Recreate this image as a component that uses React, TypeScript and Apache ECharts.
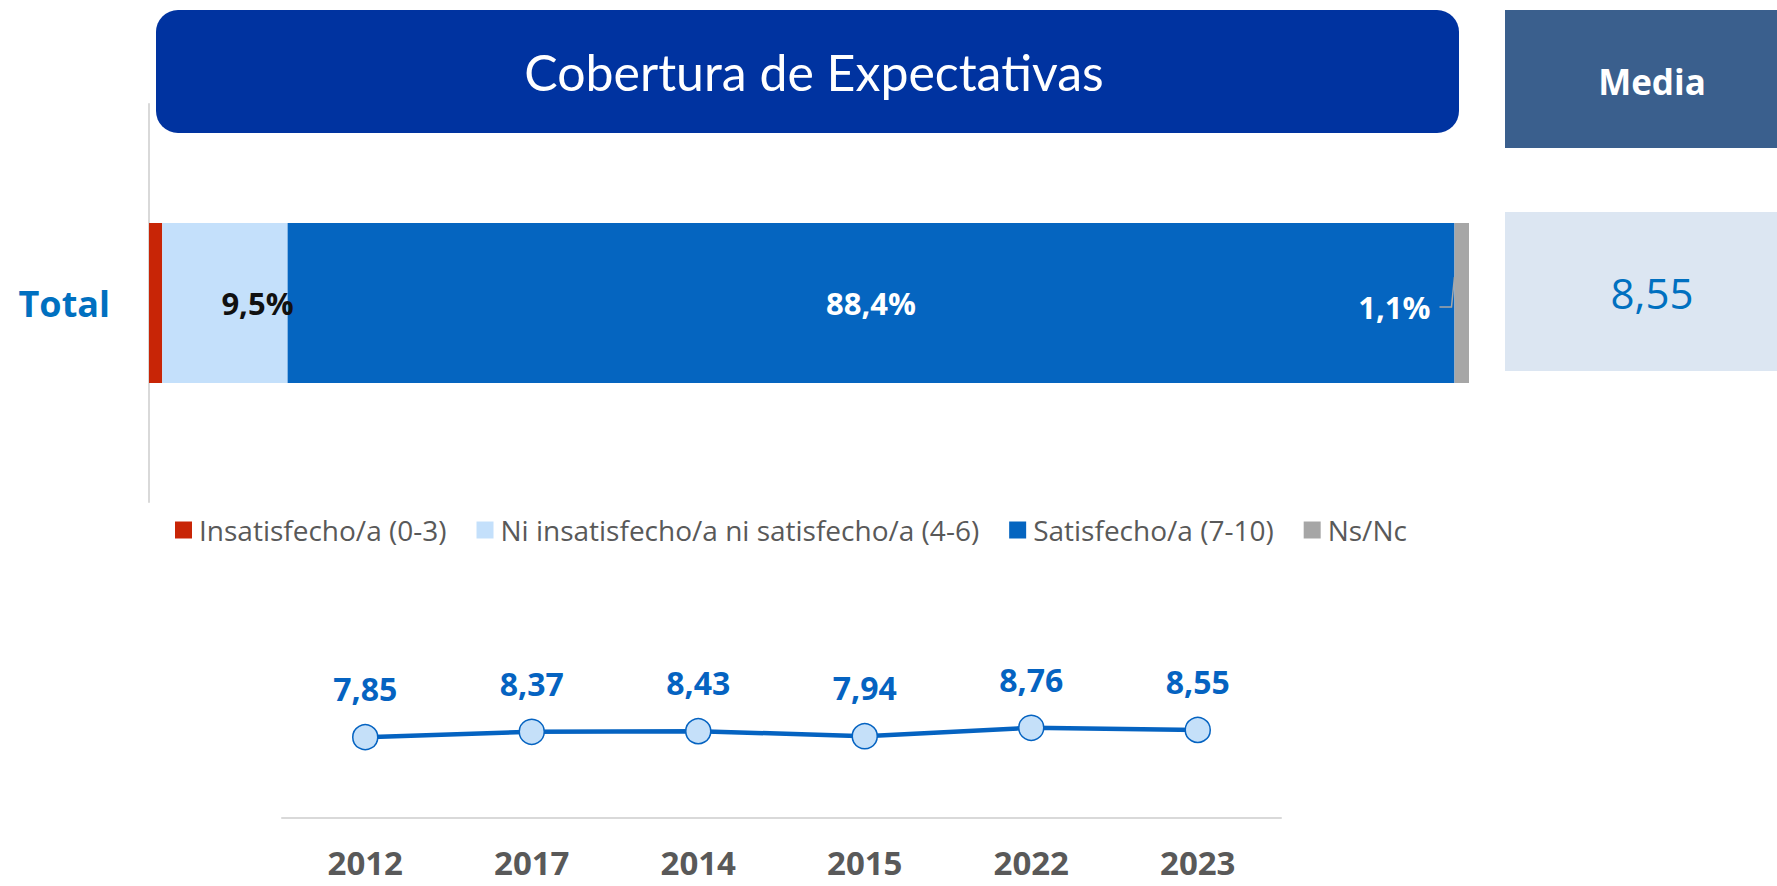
import React, { useEffect, useRef } from 'react';
import * as echarts from 'echarts';

const TITLE = 'Cobertura de Expectativas';
const BAR_CATEGORIES = ['Total'];
const SEGMENT_NAMES = [
  'Insatisfecho/a (0-3)',
  'Ni insatisfecho/a ni satisfecho/a (4-6)',
  'Satisfecho/a (7-10)',
  'Ns/Nc',
];
const INSATISFECHO = [1.0];
const NI_NI = [9.5];
const SATISFECHO = [88.4];
const NSNC = [1.1];
const MEDIA_LABEL = 'Media';
const MEDIA_VALUE = 8.55;
const YEARS = ['2012', '2017', '2014', '2015', '2022', '2023'];
const MEDIA_SERIES = [7.85, 8.37, 8.43, 7.94, 8.76, 8.55];

const SEG_COLORS = ['#C82506', '#C4E0FB', '#0565C0', '#A6A6A6'];
const fmt = (v: number, d: number) => v.toFixed(d).replace('.', ',');
const FONT = '"Open Sans", "Noto Sans", sans-serif';

export default function App() {
  const ref = useRef<HTMLDivElement>(null);
  useEffect(() => {
    document.body.style.margin = '0';
    if (!ref.current) return;
    const chart = echarts.init(ref.current, undefined, { renderer: 'svg' });
    const barLabel = (color: string) => ({
      show: true,
      fontFamily: FONT,
      fontWeight: 'bold' as const,
      fontSize: 31,
      color,
      formatter: (p: any) => fmt(p.value, 1) + '%',
    });
    const option: any = {
      animation: false,
      backgroundColor: '#FFFFFF',
      textStyle: { fontFamily: FONT },
      legend: {
        left: 170,
        top: 510,
        itemWidth: 17,
        itemHeight: 17,
        itemGap: 30,
        icon: 'rect',
        data: SEGMENT_NAMES,
        textStyle: { fontFamily: FONT, fontSize: 28, color: '#595959', lineHeight: 30, padding: [0, 0, 0, 2] },
      },
      grid: [
        { left: 149, width: 1320, top: 104, height: 398 },
        { left: 282, width: 999, top: 715, height: 103 },
      ],
      xAxis: [
        { type: 'value', gridIndex: 0, min: 0, max: 100, show: false },
        {
          type: 'category',
          gridIndex: 1,
          data: YEARS,
          boundaryGap: true,
          axisLine: { show: true, lineStyle: { color: '#D9D9D9', width: 2 } },
          axisTick: { show: false },
          axisLabel: {
            fontFamily: FONT,
            fontWeight: 'bold',
            fontSize: 33,
            lineHeight: 30,
            color: '#595959',
            margin: 29,
          },
        },
      ],
      yAxis: [
        {
          type: 'category',
          gridIndex: 0,
          data: BAR_CATEGORIES,
          axisLine: { show: true, lineStyle: { color: '#D9D9D9', width: 2 } },
          axisTick: { show: false },
          axisLabel: {
            fontFamily: FONT,
            fontWeight: 'bold',
            fontSize: 36,
            color: '#0070C0',
            margin: 39,
          },
        },
        { type: 'value', gridIndex: 1, min: 0, max: 10, show: false },
      ],
      series: [
        {
          name: SEGMENT_NAMES[0],
          type: 'bar',
          stack: 'total',
          xAxisIndex: 0,
          yAxisIndex: 0,
          barWidth: 160,
          data: INSATISFECHO,
          itemStyle: { color: SEG_COLORS[0] },
          label: { show: false },
        },
        {
          name: SEGMENT_NAMES[1],
          type: 'bar',
          stack: 'total',
          xAxisIndex: 0,
          yAxisIndex: 0,
          barWidth: 160,
          data: NI_NI,
          itemStyle: { color: SEG_COLORS[1] },
          label: { ...barLabel('#111111'), position: 'insideRight', distance: 0, offset: [6, 0] },
        },
        {
          name: SEGMENT_NAMES[2],
          type: 'bar',
          stack: 'total',
          xAxisIndex: 0,
          yAxisIndex: 0,
          barWidth: 160,
          data: SATISFECHO,
          itemStyle: { color: SEG_COLORS[2] },
          label: { ...barLabel('#FFFFFF'), position: 'inside' },
        },
        {
          name: SEGMENT_NAMES[3],
          type: 'bar',
          stack: 'total',
          xAxisIndex: 0,
          yAxisIndex: 0,
          barWidth: 160,
          data: NSNC,
          itemStyle: { color: SEG_COLORS[3] },
          label: { ...barLabel('#FFFFFF'), position: 'left', distance: 24, offset: [0, 4] },
        },
        {
          name: 'Media',
          type: 'line',
          xAxisIndex: 1,
          yAxisIndex: 1,
          data: MEDIA_SERIES,
          symbol: 'circle',
          symbolSize: 25,
          lineStyle: { color: '#0563C1', width: 4.5 },
          itemStyle: { color: '#C5E0F9', borderColor: '#0563C1', borderWidth: 1.5 },
          label: {
            show: true,
            position: 'top',
            distance: 19,
            fontFamily: FONT,
            fontWeight: 'bold',
            fontSize: 32,
            lineHeight: 32,
            color: '#0563C1',
            formatter: (p: any) => fmt(p.value, 2),
          },
          z: 5,
        },
      ],
      graphic: [
        {
          type: 'rect',
          shape: { x: 156, y: 10, width: 1303, height: 123, r: 22 },
          style: { fill: '#0033A0' },
          z: 10,
        },
        {
          type: 'text',
          x: 814,
          y: 72,
          style: {
            text: TITLE,
            fill: '#FFFFFF',
            font: '50px Lato, "Open Sans", sans-serif',
            textAlign: 'center',
            textVerticalAlign: 'middle',
          },
          z: 11,
        },
        {
          type: 'rect',
          shape: { x: 1505, y: 10, width: 272, height: 138 },
          style: { fill: '#3A5F8D' },
          z: 10,
        },
        {
          type: 'text',
          x: 1652,
          y: 81,
          style: {
            text: MEDIA_LABEL,
            fill: '#FFFFFF',
            font: 'bold 35px "Open Sans", sans-serif',
            textAlign: 'center',
            textVerticalAlign: 'middle',
          },
          z: 11,
        },
        {
          type: 'rect',
          shape: { x: 1505, y: 212, width: 272, height: 159 },
          style: { fill: '#DCE6F2' },
          z: 10,
        },
        {
          type: 'text',
          x: 1652,
          y: 292,
          style: {
            text: fmt(MEDIA_VALUE, 2),
            fill: '#0070C0',
            font: '42px "Open Sans", sans-serif',
            textAlign: 'center',
            textVerticalAlign: 'middle',
          },
          z: 11,
        },
      ],
    };
    chart.setOption(option);
    // leader line for the Ns/Nc label
    const start = INSATISFECHO[0] + NI_NI[0] + SATISFECHO[0];
    const p = chart.convertToPixel({ xAxisIndex: 0, yAxisIndex: 0 }, [start, BAR_CATEGORIES[0]]);
    if (p) {
      const [gx, cy] = p as number[];
      chart.setOption({
        graphic: [
          ...option.graphic,
          {
            type: 'polyline',
            shape: { points: [[gx - 15, cy + 4], [gx - 3, cy + 4], [gx, cy - 26]] },
            style: { stroke: '#A6A6A6', lineWidth: 1.5, fill: 'none' },
            z: 12,
          },
        ],
      });
    }
    return () => chart.dispose();
  }, []);
  return <div ref={ref} style={{ width: 1777, height: 886 }} />;
}
